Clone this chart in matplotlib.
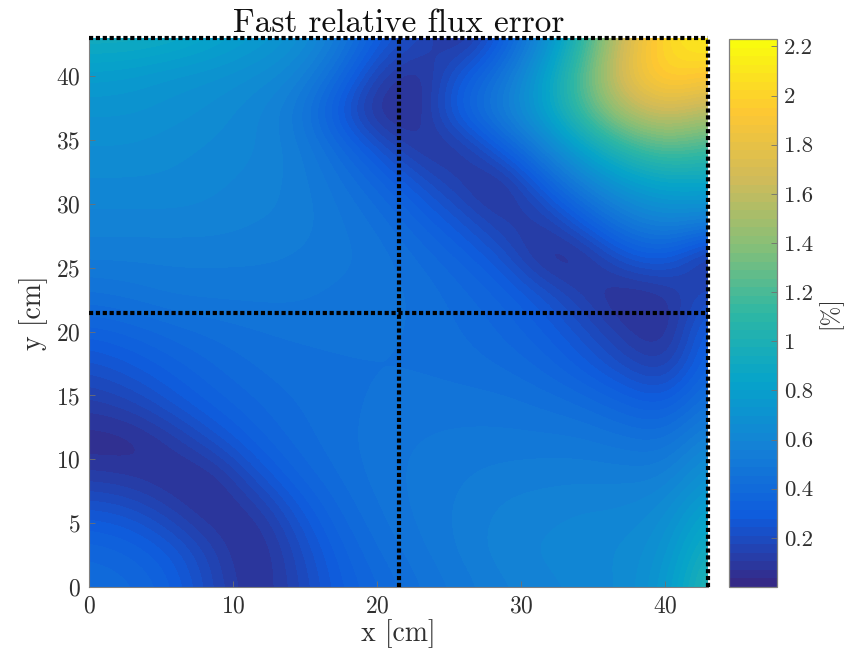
import numpy as np
import matplotlib
matplotlib.use("Agg")
import matplotlib.pyplot as plt
from matplotlib.colors import LinearSegmentedColormap

plt.rcParams['font.family'] = ['cmr10', 'DejaVu Serif']
plt.rcParams['axes.formatter.use_mathtext'] = True

title = "Fast relative flux error"
xlabel = "x [cm]"
ylabel = "y [cm]"
cbar_label = "[%]"
x_ticks = [0, 10, 20, 30, 40]
y_ticks = [0, 5, 10, 15, 20, 25, 30, 35, 40]
cbar_ticks = [0.2, 0.4, 0.6, 0.8, 1, 1.2, 1.4, 1.6, 1.8, 2, 2.2]
cbar_ticklabels = ["0.2", "0.4", "0.6", "0.8", "1", "1.2", "1.4", "1.6", "1.8", "2", "2.2"]
parula = ["#352a87", "#0f5cdd", "#1481d6", "#06a4ca", "#2eb7a4", "#87bf77", "#d1bb59", "#fec832", "#f9fb0e"]

# Rows from y = 0 (bottom) to y = 43 (top), 16 x 16 nodes
err = np.array([
 [.42,.40,.33,.18,.05,.15,.30,.38,.45,.50,.55,.58,.60,.63,.75,1.08],
 [.38,.35,.28,.15,.03,.18,.33,.42,.48,.53,.58,.60,.62,.63,.70,.98],
 [.27,.24,.15,.05,.08,.25,.38,.45,.50,.53,.57,.58,.60,.60,.65,.85],
 [.12,.10,.05,.05,.22,.35,.42,.47,.50,.52,.54,.55,.55,.55,.55,.72],
 [.03,.03,.10,.22,.33,.40,.44,.47,.49,.50,.50,.50,.50,.47,.45,.60],
 [.12,.16,.25,.33,.38,.42,.44,.46,.47,.47,.47,.45,.42,.35,.30,.48],
 [.22,.27,.33,.38,.42,.44,.45,.45,.45,.44,.42,.38,.30,.20,.12,.38],
 [.33,.36,.40,.43,.45,.46,.46,.46,.45,.42,.38,.32,.22,.10,.03,.35],
 [.45,.47,.50,.50,.50,.50,.48,.47,.45,.40,.35,.25,.12,.03,.08,.20],
 [.53,.53,.53,.53,.53,.52,.50,.48,.42,.35,.25,.05,.05,.25,.30,.05],
 [.58,.58,.58,.58,.56,.55,.50,.45,.35,.25,.12,.10,.30,.50,.60,.55],
 [.62,.62,.62,.60,.58,.55,.48,.38,.25,.12,.03,.30,.55,.75,.85,.85],
 [.66,.66,.64,.62,.60,.55,.42,.25,.08,.08,.30,.55,.85,1.10,1.25,1.15],
 [.70,.70,.68,.65,.60,.52,.28,.03,.05,.35,.55,.80,1.20,1.55,1.70,1.55],
 [.78,.76,.72,.70,.66,.60,.42,.15,.03,.28,.45,.80,1.25,1.80,2.05,1.95],
 [.95,.95,.92,.85,.78,.70,.55,.30,.20,.03,.28,.60,1.10,1.70,2.05,2.15],
])
L = 43.0
mid = 21.5

W, H = 852, 670
fig = plt.figure(figsize=(W/100, H/100), dpi=100)
def box(l, t, r, b):
    return [l/W, 1-b/H, (r-l)/W, (b-t)/H]
ax = fig.add_axes(box(89, 38, 708, 587))
cax = fig.add_axes(box(729, 39, 777, 587))

cmap = LinearSegmentedColormap.from_list("parula", parula, N=64)
h = L/(err.shape[0]-1)
im = ax.imshow(err, origin='lower', extent=[-h/2, L+h/2, -h/2, L+h/2], cmap=cmap,
               vmin=0.0, vmax=2.23, interpolation='bicubic', aspect='auto')
ax.set_xlim(0, L); ax.set_ylim(0, L)
dot = dict(color='k', lw=3.0, ls=(0, (1.0, 0.65)), clip_on=False, zorder=5)
ax.plot([mid, mid], [0, L], **dot)
ax.plot([0, L], [mid, mid], **dot)
ax.plot([0, L], [L, L], **dot)
ax.plot([L, L], [0, L], **dot)
ax.set_xticks(x_ticks); ax.set_yticks(y_ticks)
ax.tick_params(direction='in', length=4, width=0.6, color='#707070', labelcolor='#303030', labelsize=17, pad=6)
ax.spines['top'].set_visible(False)
ax.spines['right'].set_visible(False)
for s in ('left', 'bottom'):
    ax.spines[s].set_linewidth(0.8); ax.spines[s].set_color('#808080')
ax.set_title(title, fontsize=24, pad=4, color='#111111')
ax.set_xlabel(xlabel, fontsize=20, labelpad=1, color='#303030')
ax.set_ylabel(ylabel, fontsize=20, labelpad=6, color='#303030')

cb = fig.colorbar(im, cax=cax)
cb.set_ticks(cbar_ticks, labels=cbar_ticklabels)
cb.minorticks_off()
cax.tick_params(direction='in', length=4, width=0.6, color='#707070', labelcolor='#303030', labelsize=16.5, pad=5)
cb.outline.set_linewidth(0.9); cb.outline.set_edgecolor('#808080')
cb.set_label(cbar_label, fontsize=17, labelpad=3, color='#303030')
fig.savefig("out.png", dpi=100)
